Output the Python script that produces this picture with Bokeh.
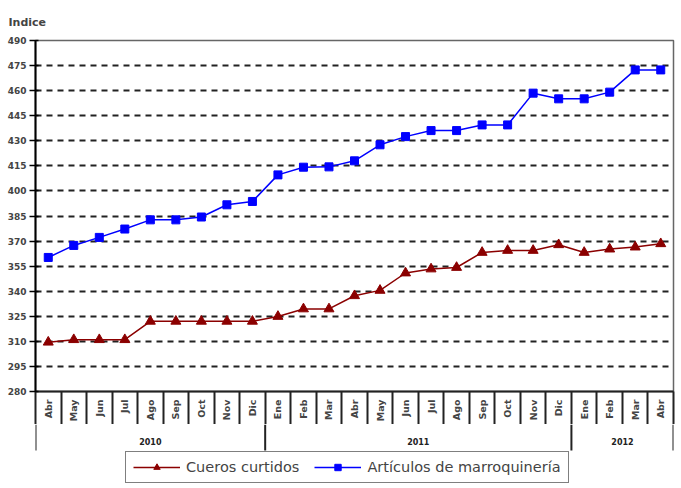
import math
from bokeh.plotting import figure
from bokeh.layouts import column
from bokeh.models import Range1d, LinearAxis, FixedTicker, Legend, LegendItem
from bokeh.core.properties import value
from bokeh.embed import file_html
from bokeh.resources import INLINE

# ---- data ----
months = ["Abr", "May", "Jun", "Jul", "Ago", "Sep", "Oct", "Nov", "Dic",
          "Ene", "Feb", "Mar", "Abr", "May", "Jun", "Jul", "Ago", "Sep", "Oct", "Nov", "Dic",
          "Ene", "Feb", "Mar", "Abr"]
years = ["2010", "2011", "2012"]
year_counts = [9, 12, 4]
cueros = [309.5, 311.0, 311.0, 311.0, 322.0, 322.0, 322.0, 322.0, 322.0,
          324.9, 329.4, 329.4, 337.3, 340.5, 350.9, 353.3, 354.2, 363.2, 364.4, 364.4, 367.8,
          363.2, 365.2, 366.4, 368.4]
marroq = [360.2, 367.4, 372.2, 377.2, 382.7, 382.7, 384.4, 391.7, 393.7,
          409.6, 414.2, 414.4, 418.0, 427.6, 432.5, 436.1, 436.1, 439.5, 439.5, 458.5, 455.1,
          455.1, 459.1, 472.4, 472.4]
y_ticks = list(range(280, 491, 15))
series_names = ["Cueros curtidos", "Artículos de marroquinería"]

FONT = "DejaVu Sans"
RED = "#8B0000"
BLUE = "#0000FF"
n = len(months)
xc = [i + 0.5 for i in range(n)]
bounds = list(range(n + 1))
year_bounds = [0]
for c in year_counts:
    year_bounds.append(year_bounds[-1] + c)
year_centers = [(year_bounds[i] + year_bounds[i + 1]) / 2 for i in range(len(years))]

xr = Range1d(0, n)

# ================= main chart =================
p = figure(frame_width=638, frame_height=351, output_backend="svg", toolbar_location=None,
           x_range=xr, y_range=Range1d(y_ticks[0], y_ticks[-1]),
           x_axis_location=None, title="Indice",
           min_border_left=35, min_border_right=7, min_border_top=40, min_border_bottom=33)

p.title.align = "left"
p.title.offset = -27
p.title.standoff = 24
p.title.text_font = FONT
p.title.text_font_size = "11px"
p.title.text_font_style = "bold"

p.outline_line_color = "#666666"
p.outline_line_width = 1.5

# y axis
p.yaxis.ticker = FixedTicker(ticks=y_ticks)
p.yaxis.axis_line_width = 2
p.yaxis.axis_line_color = "black"
p.yaxis.major_tick_out = 6
p.yaxis.major_tick_in = 3
p.yaxis.major_tick_line_width = 1.5
p.yaxis.minor_tick_line_color = None
p.yaxis.major_label_text_font = FONT
p.yaxis.major_label_text_font_size = "9px"
p.yaxis.major_label_text_font_style = "bold"
p.yaxis.major_label_standoff = 3

# grid
p.xgrid.grid_line_color = None
p.ygrid.ticker = FixedTicker(ticks=y_ticks[1:-1])
p.ygrid.grid_line_color = "#222222"
p.ygrid.grid_line_dash = "6 5"
p.ygrid.grid_line_width = 2

# x axis: months, with separator ticks between categories
ax1 = LinearAxis(ticker=FixedTicker(ticks=xc, minor_ticks=bounds),
                 major_label_overrides={x: m for x, m in zip(xc, months)})
ax1.axis_line_width = 2
ax1.axis_line_color = "#222222"
ax1.major_tick_out = 0
ax1.major_tick_in = 0
ax1.minor_tick_out = 0
ax1.minor_tick_in = -38
ax1.minor_tick_line_width = 2
ax1.minor_tick_line_color = "#222222"
ax1.major_label_orientation = math.pi / 2
ax1.major_label_standoff = 8
ax1.major_label_text_font = FONT
ax1.major_label_text_font_size = "9.5px"
ax1.major_label_text_font_style = "bold"
p.add_layout(ax1, "below")

p.line(xc, cueros, line_color=RED, line_width=1.5)
p.scatter(xc, cueros, marker="triangle", size=10, fill_color=RED, line_color=RED)
p.line(xc, marroq, line_color=BLUE, line_width=1.5)
p.scatter(xc, marroq, marker="square", size=8, fill_color=BLUE, line_color=BLUE)

# ================= year band + legend strip =================
BAND_H = 64
q = figure(frame_width=638, frame_height=BAND_H, output_backend="svg", toolbar_location=None,
           x_range=xr, y_range=Range1d(0, BAND_H),
           x_axis_location=None, y_axis_location=None,
           min_border_left=35, min_border_right=7, min_border_top=0, min_border_bottom=0)
q.xgrid.grid_line_color = None
q.ygrid.grid_line_color = None
q.outline_line_color = None

# year separators continuing the month separators
q.segment(x0=year_bounds, y0=[BAND_H] * len(year_bounds), x1=year_bounds,
          y1=[BAND_H - 26] * len(year_bounds), line_color="#222222", line_width=2)
# year labels
q.text(x=year_centers, y=[BAND_H - 17] * len(years), text=years,
       text_font=value(FONT), text_font_size="8px", text_font_style="bold",
       text_align="center", text_baseline="middle", text_color="#222222")

# legend entries (series drawn outside this strip's visible range, only the legend shows)
l1 = q.line(xc, cueros, line_color=RED, line_width=1.5)
m1 = q.scatter(xc, cueros, marker="triangle", size=10, fill_color=RED, line_color=RED)
l2 = q.line(xc, marroq, line_color=BLUE, line_width=1.5)
m2 = q.scatter(xc, marroq, marker="square", size=8, fill_color=BLUE, line_color=BLUE)

legend = Legend(items=[LegendItem(label=series_names[0], renderers=[l1, m1]),
                       LegendItem(label=series_names[1], renderers=[l2, m2])],
                orientation="horizontal", location=(90, 5))
legend.border_line_color = "black"
legend.border_line_width = 1.5
legend.label_text_font = FONT
legend.label_text_font_size = "14.5px"
legend.glyph_width = 47
legend.glyph_height = 16
legend.label_height = 16
legend.label_standoff = 6
legend.spacing = 15
legend.padding = 7
legend.margin = 0
q.add_layout(legend, "center")

layout = column(p, q, spacing=0)
open("out.html", "w").write(file_html(layout, INLINE))
